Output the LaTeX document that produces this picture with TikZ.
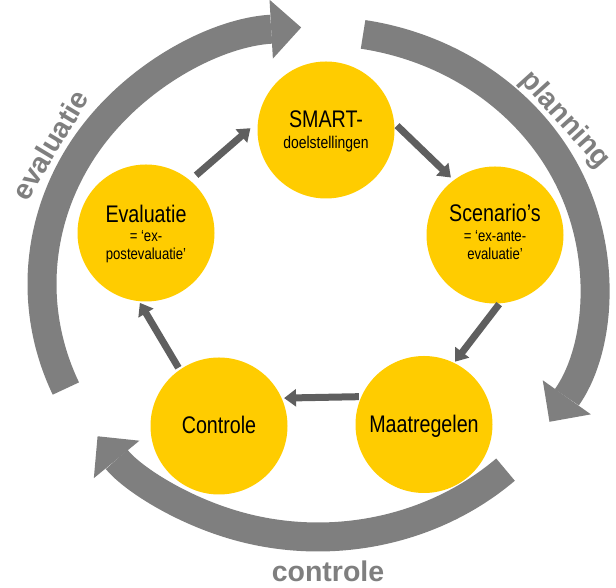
\documentclass[tikz,border=0pt]{standalone}
\usepackage{fontspec}
\setmainfont{Liberation Sans}[FakeStretch=0.82]
\newfontfamily\lblfont{Liberation Sans}
\usetikzlibrary{arrows.meta,calc}
\definecolor{ylw}{RGB}{255,204,0}
\definecolor{arcgray}{RGB}{127,127,127}
\definecolor{arrgray}{RGB}{95,95,95}
\begin{document}
\begin{tikzpicture}[x=1pt,y=1pt,
 circ/.style={circle,fill=ylw,minimum size=137pt,inner sep=0pt,outer sep=0pt},
 bigtxt/.style={font=\fontsize{24}{24}\selectfont, anchor=base, inner sep=0pt},
 smalltxt/.style={font=\fontsize{16}{16}\selectfont, anchor=base, inner sep=0pt},
 link/.style={draw=arrgray,line width=7pt,-{Triangle[length=12pt,width=17pt]}},
 band/.style={draw=arcgray,line width=29pt,-{Triangle[length=30pt,width=59pt,line width=0pt]}},
 lbl/.style={font=\lblfont\bfseries\fontsize{28.5}{28.5}\selectfont, text=arcgray, inner sep=0pt}]
\useasboundingbox (0,0) rectangle (616,588);
\coordinate (O) at (318,304);
% big arcs
\draw[band] ($(O)+(204:276pt and 257pt)$) arc[start angle=204,end angle=93.5,x radius=276pt,y radius=257pt];
\draw[band] ($(O)+(80.6:276pt and 253pt)$) arc[start angle=80.6,end angle=-33,x radius=276pt,y radius=253pt];
\draw[band] ($(O)+(-47.2:276pt and 253pt)$) arc[start angle=-47.2,end angle=-143,x radius=276pt,y radius=253pt];
% labels
\node[lbl, rotate=-48] (lp) at (565,468) {planning};
\node[lbl, rotate=59] (le) at (50,443) {evaluatie};
\node[lbl, anchor=base] (lc) at (328,6) {controle};
% circles
\node[circ] (S) at (326,458) {};
\node[circ] (Sc) at (495,353) {};
\node[circ] (E) at (146,355) {};
\node[circ] (M) at (424,163.5) {};
\node[circ] (C) at (219,162) {};
% texts
\node[bigtxt] (S1) at ([yshift=2pt]S.center) {SMART-};
\node[smalltxt, font=\fontsize{17}{17}\selectfont] (S2) at ([yshift=-19pt]S.center) {doelstellingen};
\node[bigtxt] (Sc1) at ([yshift=13pt]Sc.center) {Scenario’s};
\node[smalltxt] (Sc2) at ([yshift=-7pt]Sc.center) {= ‘ex-ante-};
\node[smalltxt] (Sc3) at ([yshift=-25pt]Sc.center) {evaluatie’};
\node[bigtxt] (E1) at ([yshift=10pt]E.center) {Evaluatie};
\node[smalltxt] (E2) at ([yshift=-8.7pt]E.center) {= ‘ex-};
\node[smalltxt] (E3) at ([yshift=-27pt]E.center) {postevaluatie’};
\node[bigtxt] (C1) at ([yshift=-7.3pt]C.center) {Controle};
\node[bigtxt] (M1) at ([yshift=-8.5pt]M.center) {Maatregelen};
% links
\draw[link, shorten <=8pt, shorten >=10pt] (E.50) -- (S.173);
\draw[link, shorten <=4pt, shorten >=4pt] (S.6) -- (Sc.127);
\draw[link, shorten <=1pt, shorten >=1.5pt] (Sc.-86) -- (M.64);
\draw[link, shorten <=2.5pt, shorten >=2.5pt] (M.156) -- (C.24);
\draw[link, shorten <=2.5pt, shorten >=2pt] (C.125) -- (E.-96);
\end{tikzpicture}
\end{document}
